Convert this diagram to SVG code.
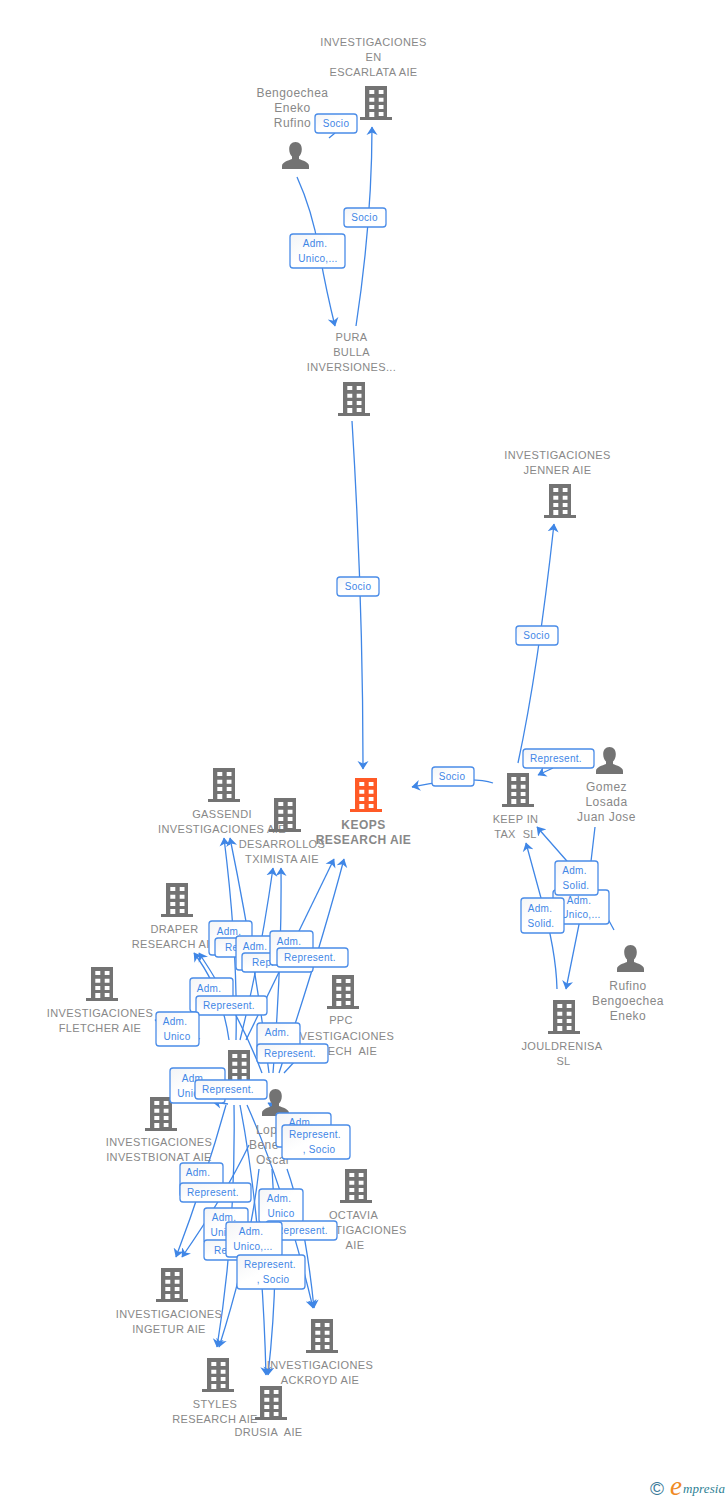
<svg xmlns="http://www.w3.org/2000/svg" width="728" height="1500" viewBox="0 0 728 1500">
<style>
.c path{fill:none;stroke:#3f86e6;stroke-width:1.3;marker-end:url(#a)}
.c path.n{marker-end:none}
.i{fill:#737373}
.k{fill:#ff5a26}
text{font-family:"Liberation Sans",Arial,sans-serif;white-space:pre}
.t{font-size:11px;letter-spacing:.36px;fill:#888;text-anchor:middle}
.p{font-size:12px;letter-spacing:.45px;fill:#888;text-anchor:middle}
.b{font-size:12px;font-weight:bold;letter-spacing:.45px;fill:#888;text-anchor:middle}
.l rect{fill:url(#g);stroke:#4a8ce8;stroke-width:1.3}
.l text{font-size:10px;letter-spacing:.3px;fill:#3f86e6;text-anchor:middle}
</style>
<defs>
<marker id="a" markerUnits="userSpaceOnUse" markerWidth="12" markerHeight="12" refX="8" refY="6" orient="auto"><path d="M0 0.5L8.5 6L0 11.5L2.5 6Z" fill="#3f86e6"/></marker>
<linearGradient id="g" x1="0" y1="0" x2="1" y2="1"><stop offset="0" stop-color="#f3f4f6"/><stop offset=".45" stop-color="#fff"/><stop offset="1" stop-color="#fff"/></linearGradient>
<g id="bl"><rect x="0" y="31" width="32" height="3"/><path d="M5 0H27V31H5ZM9.3 4V8H14.3V4ZM18.7 4V8H23.5V4ZM9.3 11.7V15.7H14.3V11.7ZM18.7 11.7V15.7H23.5V11.7ZM9.3 19V23H14.3V19ZM18.7 19V23H23.5V19ZM9.3 26V31H14.3V26ZM18.7 26V30H23.5V26Z" fill-rule="evenodd"/></g>
<path id="pe" d="M13.5 0C17.5 0 19.8 3 19.8 7.2C19.8 10.5 18.6 13 17 14.6V17C20.5 18.6 27 20 27 24V27H0V24C0 20 6.5 18.6 10 17V14.6C8.4 13 7.2 10.5 7.2 7.2C7.2 3 9.5 0 13.5 0Z"/>
</defs>
<g id="connectors" class="c">
<path d="M297 177Q312 210 319 250T335 326"/>
<path class="n" d="M329 138L335 133"/>
<path d="M356 326Q372 220 372 127"/>
<path d="M352 421Q363 600 363 769"/>
<path d="M518 763Q538 670 554 524"/>
<path d="M493 783Q470 775 412 787"/>
<path d="M553 768L538 775"/>
<path d="M595 827L590 870L566 989"/>
<path d="M614 930L595 895L566 860L537 827"/>
<path d="M557 989Q556 950 541 898L526 843"/>
<path d="M236 1040Q238 950 224 838"/>
<path d="M269 1073Q255 960 230 838"/>
<path d="M240 1040Q260 960 273 868"/>
<path d="M273 1073Q282 960 281 868"/>
<path d="M246 1040L334 859"/>
<path d="M279 1073Q320 950 344 859"/>
<path d="M229 1040Q222 990 194 953"/>
<path d="M262 1073Q240 1015 199 953"/>
<path d="M200 1039Q180 1030 155 1020"/>
<path class="n" d="M284 1073L296 1060"/>
<path d="M228 1104L213 1102"/>
<path d="M288 1113L268 1103"/>
<path d="M226 1105Q205 1180 176 1257"/>
<path d="M249 1145Q225 1195 182 1257"/>
<path d="M234 1105Q236 1230 217 1347"/>
<path d="M259 1169Q250 1250 219 1347"/>
<path d="M240 1105Q262 1220 266 1375"/>
<path d="M272 1169Q280 1270 268 1375"/>
<path d="M247 1105Q285 1190 313 1308"/>
<path d="M287 1169Q305 1220 314 1308"/>
</g>
<g id="n1" class="i"><use href="#bl" x="360" y="86"/><text class="t" x="373.500" y="46">INVESTIGACIONES</text><text class="t" x="373.500" y="61">EN</text><text class="t" x="373.500" y="76">ESCARLATA AIE</text></g>
<g id="n2" class="i"><use href="#pe" x="282" y="142"/><text class="p" x="292.500" y="97">Bengoechea</text><text class="p" x="292.500" y="112">Eneko</text><text class="p" x="292.500" y="127">Rufino</text></g>
<g id="n3" class="i"><use href="#bl" x="338" y="382"/><text class="t" x="351.500" y="341">PURA</text><text class="t" x="351.500" y="356">BULLA</text><text class="t" x="351.500" y="371">INVERSIONES...</text></g>
<g id="n4" class="i"><use href="#bl" x="544" y="484"/><text class="t" x="557.500" y="459">INVESTIGACIONES</text><text class="t" x="557.500" y="474">JENNER AIE</text></g>
<g id="n5" class="i"><use href="#bl" x="502" y="773"/><text class="t" x="515.500" y="823">KEEP IN</text><text class="t" x="515.500" y="838">TAX  SL</text></g>
<g id="n6" class="i"><use href="#pe" x="596" y="747"/><text class="p" x="606.500" y="791">Gomez</text><text class="p" x="606.500" y="806">Losada</text><text class="p" x="606.500" y="821">Juan Jose</text></g>
<g id="n7" class="i"><use href="#pe" x="617" y="945"/><text class="p" x="628" y="990">Rufino</text><text class="p" x="628" y="1005">Bengoechea</text><text class="p" x="628" y="1020">Eneko</text></g>
<g id="n8" class="i"><use href="#bl" x="548" y="1000"/><text class="t" x="562" y="1050">JOULDRENISA</text><text class="t" x="563.500" y="1065">SL</text></g>
<g id="keops" class="k"><use href="#bl" x="350" y="778"/><text class="b" x="363.500" y="829">KEOPS</text><text class="b" x="363.500" y="844">RESEARCH AIE</text></g>
<g id="n9" class="i"><use href="#bl" x="208" y="768"/><text class="t" x="222" y="818">GASSENDI</text><text class="t" x="222" y="833">INVESTIGACIONES AIE</text></g>
<g id="n10" class="i"><use href="#bl" x="269" y="798"/><text class="t" x="282" y="848">DESARROLLOS</text><text class="t" x="282" y="863">TXIMISTA AIE</text></g>
<g id="n11" class="i"><use href="#bl" x="161" y="883"/><text class="t" x="174.500" y="933">DRAPER</text><text class="t" x="174.500" y="948">RESEARCH AIE</text></g>
<g id="n12" class="i"><use href="#bl" x="86" y="967"/><text class="t" x="100" y="1017">INVESTIGACIONES</text><text class="t" x="100" y="1032">FLETCHER AIE</text></g>
<g id="n13" class="i"><use href="#bl" x="327" y="975"/><text class="t" x="341" y="1024">PPC</text><text class="t" x="341" y="1040">INVESTIGACIONES</text><text class="t" x="349" y="1055">TECH  AIE</text></g>
<g id="n14" class="i"><use href="#bl" x="223" y="1050"/></g>
<g id="n15" class="i"><use href="#bl" x="145" y="1097"/><text class="t" x="159" y="1146">INVESTIGACIONES</text><text class="t" x="159" y="1161">INVESTBIONAT AIE</text></g>
<g id="n16" class="i"><use href="#pe" x="262" y="1089"/><text class="p" x="256" y="1134" style="text-anchor:start">Lop</text><text class="p" x="249" y="1149" style="text-anchor:start">Bene</text><text class="p" x="256" y="1164" style="text-anchor:start">Oscar</text></g>
<g id="n17" class="i"><use href="#bl" x="340" y="1169"/><text class="t" x="353.500" y="1219">OCTAVIA</text><text class="t" x="353.500" y="1234">INVESTIGACIONES</text><text class="t" x="355" y="1249">AIE</text></g>
<g id="n18" class="i"><use href="#bl" x="156" y="1268"/><text class="t" x="169" y="1318">INVESTIGACIONES</text><text class="t" x="169" y="1333">INGETUR AIE</text></g>
<g id="n19" class="i"><use href="#bl" x="306" y="1319"/><text class="t" x="320" y="1369">INVESTIGACIONES</text><text class="t" x="320" y="1384">ACKROYD AIE</text></g>
<g id="n20" class="i"><use href="#bl" x="202" y="1358"/><text class="t" x="215" y="1408">STYLES</text><text class="t" x="215" y="1423">RESEARCH AIE</text></g>
<g id="n21" class="i"><use href="#bl" x="255" y="1386"/><text class="t" x="268.500" y="1436">DRUSIA  AIE</text></g>
<g id="labels" class="l">
<rect x="315" y="114" width="42" height="19" rx="3"/><text x="336" y="127">Socio</text>
<rect x="344" y="208" width="42" height="19" rx="3"/><text x="364.500" y="221">Socio</text>
<rect x="290" y="234" width="55" height="34" rx="3"/><text x="315" y="247">Adm.</text><text x="318" y="262">Unico,...</text>
<rect x="337" y="577" width="42" height="19" rx="3"/><text x="358" y="590">Socio</text>
<rect x="516" y="626" width="42" height="19" rx="3"/><text x="536.500" y="639">Socio</text>
<rect x="523" y="749" width="71" height="19" rx="3"/><text x="556" y="762">Represent.</text>
<rect x="432" y="767" width="42" height="19" rx="3"/><text x="452" y="780">Socio</text>
<rect x="553" y="890" width="56" height="34" rx="3"/><text x="579" y="904">Adm.</text><text x="581" y="918">Unico,...</text>
<rect x="555" y="861" width="43" height="34" rx="3"/><text x="574.500" y="874">Adm.</text><text x="576" y="889">Solid.</text>
<rect x="521" y="898" width="43" height="35" rx="3"/><text x="540" y="912">Adm.</text><text x="541" y="927">Solid.</text>
<rect x="209" y="921" width="43" height="34" rx="3"/><text x="229" y="935">Adm.</text>
<rect x="215" y="938" width="71" height="19" rx="3"/><text x="251" y="951">Represent.</text>
<rect x="236" y="936" width="43" height="34" rx="3"/><text x="255" y="950">Adm.</text>
<rect x="242" y="953" width="71" height="19" rx="3"/><text x="278" y="966">Represent.</text>
<rect x="270" y="931" width="43" height="34" rx="3"/><text x="289" y="945">Adm.</text>
<rect x="277" y="948" width="71" height="19" rx="3"/><text x="310" y="961">Represent.</text>
<rect x="190" y="978" width="43" height="34" rx="3"/><text x="209" y="992">Adm.</text>
<rect x="196" y="996" width="71" height="19" rx="3"/><text x="229" y="1009">Represent.</text>
<rect x="156" y="1012" width="43" height="34" rx="3"/><text x="175" y="1025">Adm.</text><text x="177" y="1040">Unico</text>
<rect x="257" y="1023" width="43" height="34" rx="3"/><text x="277" y="1036">Adm.</text>
<rect x="257" y="1044" width="71" height="19" rx="3"/><text x="290" y="1057">Represent.</text>
<rect x="170" y="1068" width="55" height="35" rx="3"/><text x="194" y="1082">Adm.</text><text x="197" y="1097">Unico,...</text>
<rect x="195" y="1080" width="72" height="19" rx="3"/><text x="228" y="1093">Represent.</text>
<rect x="276" y="1113" width="55" height="34" rx="3"/><text x="301" y="1126">Adm.</text>
<rect x="282" y="1125" width="68" height="34" rx="3"/><text x="315" y="1138">Represent.</text><text x="319" y="1153">, Socio</text>
<rect x="180" y="1163" width="43" height="34" rx="3"/><text x="198" y="1176">Adm.</text>
<rect x="180" y="1183" width="71" height="19" rx="3"/><text x="213" y="1196">Represent.</text>
<rect x="204" y="1208" width="44" height="35" rx="3"/><text x="224" y="1221">Adm.</text><text x="224" y="1236">Unico</text>
<rect x="204" y="1240" width="71" height="20" rx="3"/><text x="240" y="1254">Represent.</text>
<rect x="259" y="1189" width="44" height="34" rx="3"/><text x="279" y="1202">Adm.</text><text x="281" y="1217">Unico</text>
<rect x="266" y="1221" width="71" height="19" rx="3"/><text x="302" y="1234">Represent.</text>
<rect x="226" y="1222" width="56" height="35" rx="3"/><text x="251" y="1235">Adm.</text><text x="253" y="1250">Unico,...</text>
<rect x="237" y="1255" width="68" height="34" rx="3"/><text x="270" y="1268">Represent.</text><text x="273" y="1283">, Socio</text>
</g>
<g id="logo">
<text x="650" y="1495" style="font-size:19px;fill:#3a7a99">©</text>
<text x="670" y="1495" style="font-family:'Liberation Serif',serif;font-style:italic;font-size:27px;fill:#f08a24">e</text>
<text x="683" y="1493" style="font-family:'Liberation Serif',serif;font-style:italic;font-size:13px;letter-spacing:.1px;fill:#2d7f94">mpresia</text>
</g>
</svg>
